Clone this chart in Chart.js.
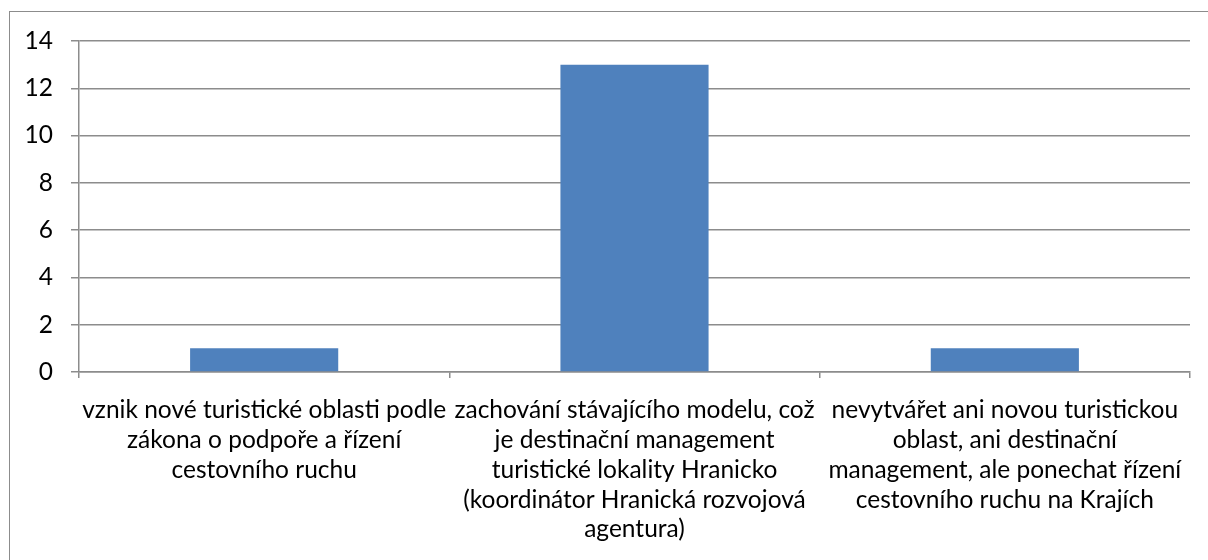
<!DOCTYPE html>
<html>
<head>
<meta charset="UTF-8">
<script src="https://cdn.jsdelivr.net/npm/chart.js@4.4.1/dist/chart.umd.min.js"></script>
<style>
  html, body { margin: 0; padding: 0; background: #fff; overflow: hidden; }
  #wrap { position: relative; width: 1208px; height: 560px; }
  #frame {
    position: absolute; left: 9px; top: 11px; width: 1220px; height: 580px;
    border: 1.5px solid #8c8c8c; box-sizing: border-box;
  }
  canvas { position: absolute; left: 0; top: 0; }
</style>
</head>
<body>
<div id="wrap">
  <div id="frame"></div>
  <canvas id="c" width="1208" height="560"></canvas>
</div>
<script>
// kategorie (popisky osy X, rozdělené na řádky jako v originále)
const categories = [
  ['vznik nové turistické oblasti podle', 'zákona o podpoře a řízení', 'cestovního ruchu'],
  ['zachování stávajícího modelu, což', 'je destinační management', 'turistické lokality Hranicko', '(koordinátor Hranická rozvojová', 'agentura)'],
  ['nevytvářet ani novou turistickou', 'oblast, ani destinační', 'management, ale ponechat řízení', 'cestovního ruchu na Krajích']
];
const values = [1, 13, 1];
const yTicks = [0, 2, 4, 6, 8, 10, 12, 14];

const labelFont = { family: 'Lato, "Open Sans", sans-serif', size: 24.5, lineHeight: 1.22 };

new Chart(document.getElementById('c'), {
  type: 'bar',
  data: {
    labels: categories,
    datasets: [{
      data: values,
      backgroundColor: '#4F81BD',
      borderWidth: 0,
      barPercentage: 0.4,
      categoryPercentage: 1.0
    }]
  },
  options: {
    responsive: false,
    animation: false,
    layout: { padding: { left: 0, top: 41, right: 18, bottom: 0 } },
    plugins: { legend: { display: false }, tooltip: { enabled: false } },
    scales: {
      x: {
        offset: true,
        grid: { drawOnChartArea: false, drawTicks: true, tickLength: 6, color: '#8c8c8c', lineWidth: 1.5, offset: true },
        border: { color: '#8c8c8c', width: 1.5 },
        ticks: { color: '#000', font: labelFont, maxRotation: 0, autoSkip: false, padding: 17 },
        afterFit: (scale) => { scale.height = 560 - 372; }
      },
      y: {
        min: 0,
        max: 14,
        afterBuildTicks: (scale) => { scale.ticks = yTicks.map(v => ({ value: v })); },
        grid: { color: '#8c8c8c', lineWidth: 1.5, tickLength: 8 },
        border: { color: '#8c8c8c', width: 1.5 },
        ticks: { color: '#000', font: labelFont, padding: 18 },
        afterFit: (scale) => { scale.width = 79; }
      }
    }
  }
});
</script>
</body>
</html>
